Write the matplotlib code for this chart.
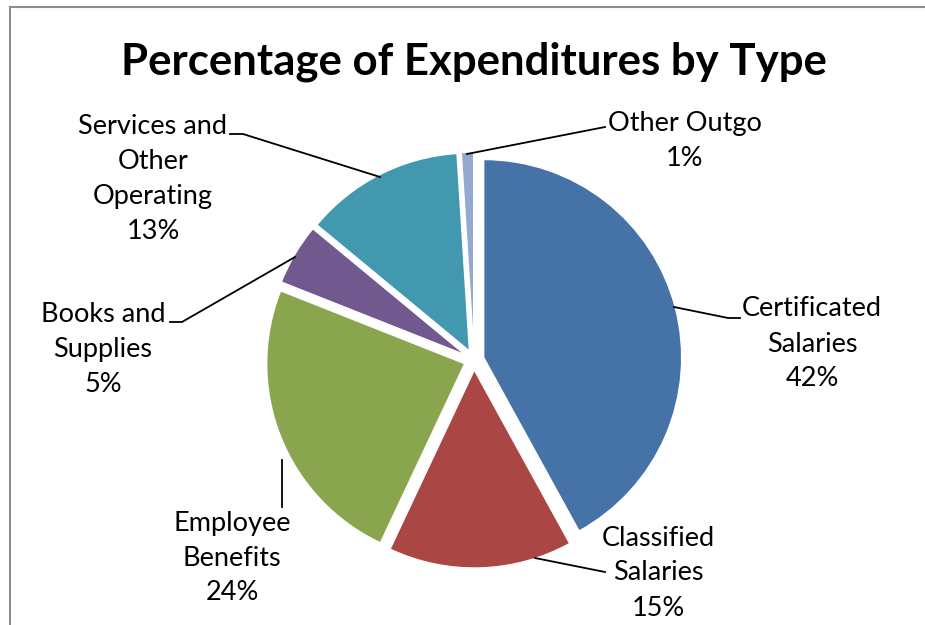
import matplotlib
matplotlib.use("Agg")
import matplotlib.pyplot as plt
from matplotlib.lines import Line2D

# Expenditure shares (percent), drawn clockwise from 12 o'clock
categories = ["Certificated\nSalaries", "Classified\nSalaries", "Employee\nBenefits",
              "Books and\nSupplies", "Services and\nOther\nOperating", "Other Outgo"]
shares = [42, 15, 24, 5, 13, 1]
colors = ["#4573A7", "#AA4744", "#89A54E", "#71588F", "#4198AF", "#93A9CF"]

W, H = 925, 625
fig = plt.figure(figsize=(W / 100, H / 100), dpi=100)
ax = fig.add_axes([0, 0, 1, 1])

font = "Lato"

cx, cy, R = 474, H - 360, 198
# explode offsets are in data units (pixels here)
ax.pie(shares, colors=colors, startangle=90, counterclock=False,
       explode=[10] * len(shares), center=(cx, cy), radius=R,
       wedgeprops=dict(edgecolor="white", linewidth=1.0))

ax.set_xlim(0, W)
ax.set_ylim(0, H)
ax.set_aspect("equal")
ax.axis("off")

def py(y):
    return H - y

# Chart frame (left and top edges)
ax.add_line(Line2D([10, 10], [py(7), py(640)], color="#8c8c8c", lw=1.5, clip_on=False))
ax.add_line(Line2D([10, 930], [py(7), py(7)], color="#8c8c8c", lw=1.5, clip_on=False))

ax.text(474, py(62), "Percentage of Expenditures by Type", ha="center", va="center",
        fontsize=31.5, fontweight="bold", family=font)

# Labels: (text centre x, text centre y, leader polyline in pixel coords)
label_pos = [
    (812, 344, [(674, 307), (728, 318), (740, 318)]),
    (658, 573, [(535, 558), (605, 572)]),
    (232, 558, [(282, 460), (282, 507)]),
    (103, 350, [(295, 257), (182, 322), (170, 322)]),
    (153, 179, [(380, 177), (243, 134), (230, 134)]),
    (685, 141, [(467, 154), (605, 127)]),
]

for name, val, (tx, ty, pts) in zip(categories, shares, label_pos):
    ax.text(tx, py(ty), f"{name}\n{val}%", ha="center", va="center",
            fontsize=19.5, family=font, linespacing=1.5)
    xs = [p[0] for p in pts]
    ys = [py(p[1]) for p in pts]
    ax.add_line(Line2D(xs, ys, color="black", lw=1.3))

fig.savefig("out.png", dpi=100, facecolor="white")
